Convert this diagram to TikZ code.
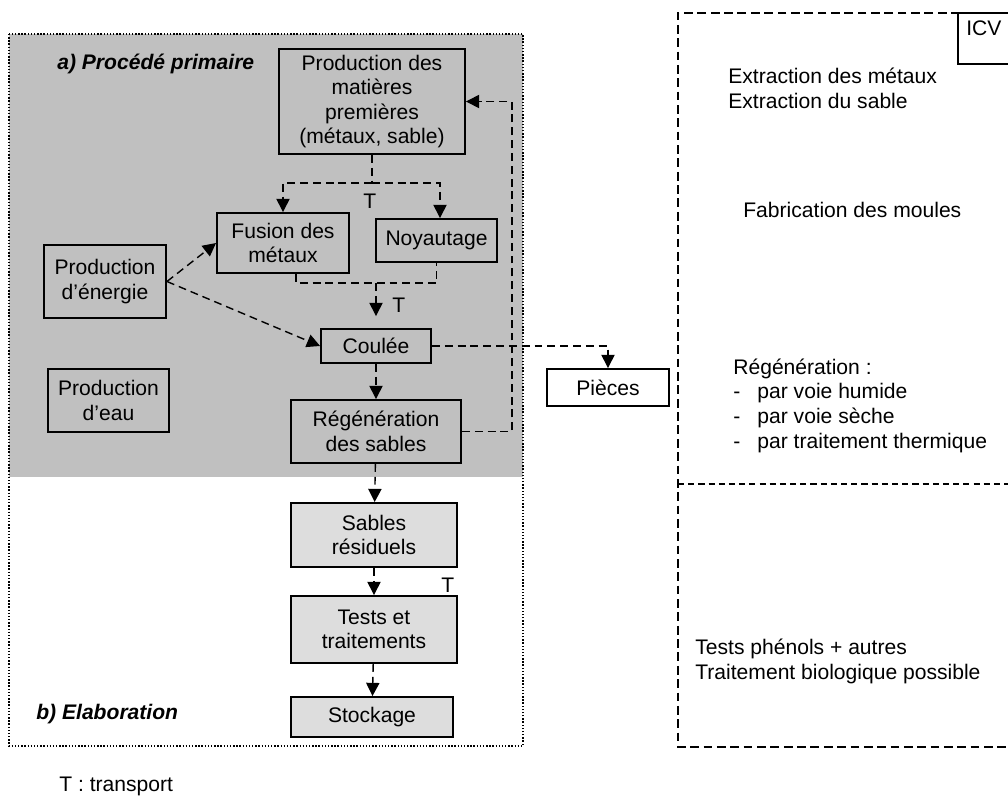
\documentclass[tikz,border=0pt]{standalone}
\usepackage{fontspec}
\setmainfont{Liberation Sans}
\usetikzlibrary{arrows.meta}
\definecolor{zonea}{HTML}{C0C0C0}
\definecolor{zoneb}{HTML}{DDDDDD}

\begin{document}
\begin{tikzpicture}[x=0.02cm, y=-0.02cm,
  font=\fontsize{12}{14}\selectfont,
  box/.style={rectangle, draw, line width=1.1pt, align=center, inner sep=2pt},
  boxb/.style={box, fill=zoneb},
  link/.style={line width=0.8pt, dash pattern=on 4.5pt off 2.8pt},
  arrow/.style={link, -{Triangle[length=7.5pt, width=7.5pt]}},
  note/.style={anchor=base west, inner sep=0pt, align=left},
  title/.style={note, font=\fontsize{12}{14}\selectfont\bfseries\itshape},
]
  \clip (0,0) rectangle (1008,795);
  % zones a) et b)
  \fill[zonea] (9,34) rectangle (523,477);
  \draw[densely dotted, line width=0.8pt] (9,34) rectangle (523,746);
  \node[title] (la) at (57,69) {a) Procédé primaire};
  \node[title] (lb) at (36,719) {b) Elaboration};

  \node[box, minimum width=3.72cm, minimum height=2.1cm] (mat) at (372,101.5) {Production des\\matières\\premières\\(métaux, sable)};
  \node[box, minimum width=2.64cm, minimum height=1.2cm] (fus) at (283,243) {Fusion des\\métaux};
  \node[box, minimum width=2.42cm, minimum height=0.86cm] (noy) at (436.5,240.5) {Noyautage};
  \node[box, minimum width=2.44cm, minimum height=1.46cm] (ener) at (105,281.5) {Production\\d’énergie};
  \node[box, minimum width=2.42cm, minimum height=1.26cm] (eau) at (108.5,400.5) {Production\\d’eau};
  \node[box, minimum width=2.2cm, minimum height=0.68cm] (coul) at (376,346) {Coulée};
  \node[box, minimum width=3.4cm, minimum height=1.26cm] (rege) at (376,431.5) {Régénération\\des sables};
  \node[box, fill=white, minimum width=2.44cm, minimum height=0.74cm] (pieces) at (608,387.5) {Pièces};
  \node[boxb, minimum width=3.32cm, minimum height=1.28cm] (sab) at (374,535) {Sables\\résiduels};
  \node[boxb, minimum width=3.32cm, minimum height=1.34cm] (tests) at (374,629.5) {Tests et\\traitements};
  \node[boxb, minimum width=3.24cm, minimum height=0.8cm] (stock) at (372,717) {Stockage};

  % flux
  \coordinate (split) at (372,183);
  \draw[link] (mat) -- (split);
  \draw[arrow] (split) -| (fus.north);
  \draw[arrow] (split) -| ([xshift=0.07cm]noy.north);
  \node[note] (t1) at (363,208) {T};

  \draw[arrow] (ener.east) -- (fus.west);
  \draw[arrow] (ener.east) -- (coul.west);

  \coordinate (join) at (376,283);
  \draw[link] ([xshift=0.26cm]fus.south) |- (join) -| (noy.south);
  \draw[arrow, shorten >=0.24cm] (join) -- (coul);
  \node[note] (t2) at (392,312) {T};

  \draw[arrow] (coul) -- (rege);
  \draw[arrow] (coul.east) -| (pieces.north);
  \draw[arrow] (rege.east) -- ++(50,0) |- (mat.east);
  \draw[arrow] (rege) -- (sab);
  \draw[arrow] (sab) -- (tests);
  \node[note] (t3) at (441,592) {T};
  \draw[arrow] (tests) -- (stock);

  \node[note] (leg) at (59,791) {T : transport};

  % colonne ICV (ancre sur la derniere ligne)
  \draw[line width=1pt, dash pattern=on 5pt off 2.6pt] (1040,13) -- (678,13) -- (678,747) -- (1040,747);
  \draw[line width=0.9pt, dash pattern=on 3.5pt off 2.3pt] (678,484) -- (1040,484);
  \draw[line width=1pt] (1040,13) rectangle (958,64);
  \node[note] (icv) at (966,35) {ICV};
  \node[note] (ext) at (728,108) {Extraction des métaux\\Extraction du sable};
  \node[note] (moul) at (743,217) {Fabrication des moules};
  \node[note] (regtxt) at (733,448) {Régénération :\\\makebox[13.7pt][l]{-}par voie humide\\\makebox[13.7pt][l]{-}par voie sèche\\\makebox[13.7pt][l]{-}par traitement thermique};
  \node[note] (testtxt) at (695,679) {Tests phénols + autres\\Traitement biologique possible};
\end{tikzpicture}
\end{document}
